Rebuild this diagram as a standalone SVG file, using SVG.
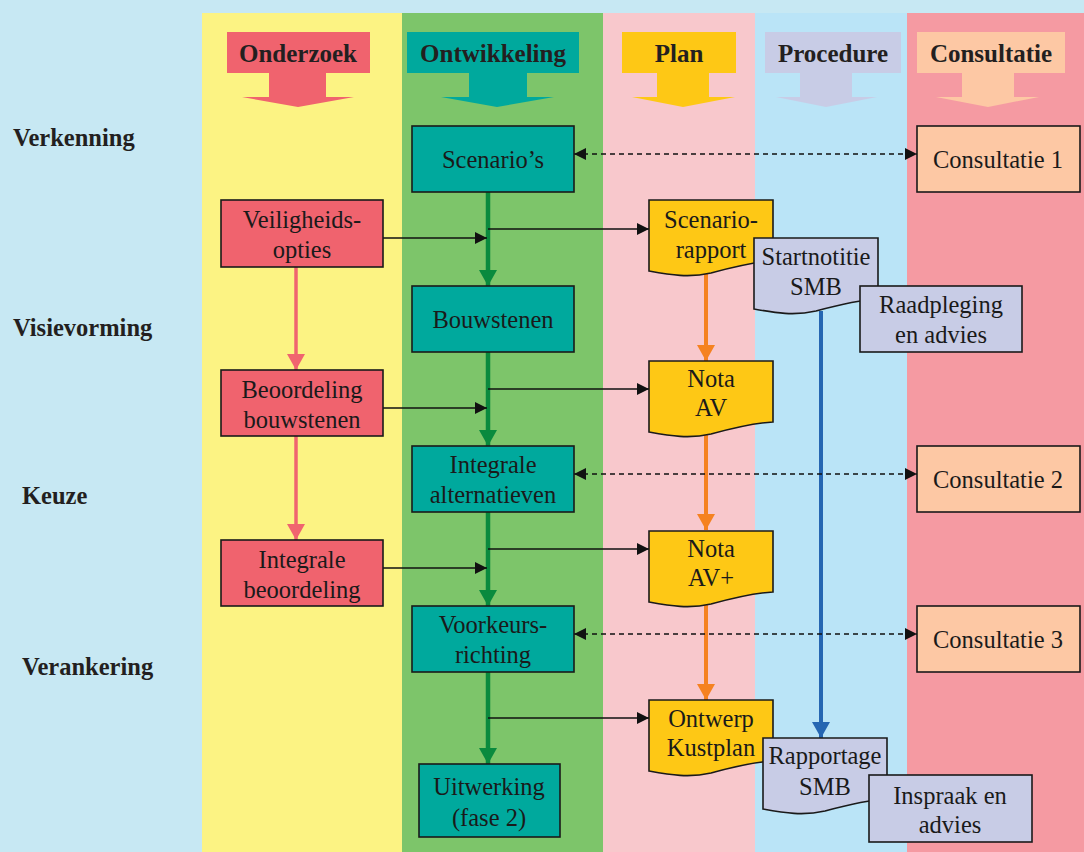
<svg xmlns="http://www.w3.org/2000/svg" width="1084" height="852" viewBox="0 0 1084 852">
<defs>
<style>
text{font-family:'Liberation Serif','Tinos','Times New Roman','DejaVu Serif',serif}
.lbl{font-size:24.5px;fill:#1a1a1a;text-anchor:middle}
.hd{font-size:25px;font-weight:bold;fill:#231f20;text-anchor:middle}
.row{font-size:24.5px;font-weight:bold;fill:#231f20}
.box{stroke:#1a1a1a;stroke-width:1.6}
.teal{fill:#00a99d}
.red{fill:#f0636e}
.yel{fill:#fec815}
.lav{fill:#c8cce6}
.peach{fill:#fdc8a4}
.blk{stroke:#111;stroke-width:1.6;fill:none}
.dash{stroke:#111;stroke-width:1.4;fill:none;stroke-dasharray:5,4}
.grn{stroke:#0a8a3e;stroke-width:4.5;fill:none}
.org{stroke:#f58220;stroke-width:4;fill:none}
.rdl{stroke:#f0646f;stroke-width:3.5;fill:none}
.blu{stroke:#2566b2;stroke-width:4;fill:none}
</style>
<marker id="ab" markerUnits="userSpaceOnUse" markerWidth="13" markerHeight="12" refX="12" refY="6" orient="auto-start-reverse" viewBox="0 0 13 12"><path d="M0,0 L12,6 L0,12 Z" fill="#111"/></marker>
<marker id="ag" markerUnits="userSpaceOnUse" markerWidth="18" markerHeight="18" refX="16" refY="9" orient="auto" viewBox="0 0 18 18"><path d="M0,0 L16,9 L0,18 Z" fill="#0a8a3e"/></marker>
<marker id="ao" markerUnits="userSpaceOnUse" markerWidth="18" markerHeight="18" refX="16" refY="9" orient="auto" viewBox="0 0 18 18"><path d="M0,0 L16,9 L0,18 Z" fill="#f58220"/></marker>
<marker id="ar" markerUnits="userSpaceOnUse" markerWidth="18" markerHeight="18" refX="16" refY="9" orient="auto" viewBox="0 0 18 18"><path d="M0,0 L16,9 L0,18 Z" fill="#f0646f"/></marker>
<marker id="au" markerUnits="userSpaceOnUse" markerWidth="18" markerHeight="18" refX="16" refY="9" orient="auto" viewBox="0 0 18 18"><path d="M0,0 L16,9 L0,18 Z" fill="#2566b2"/></marker>
<path id="doc" d="M0,0 H124 V61 C104,62 84,67 62,73 C40,78 22,75 0,71 Z"/>
</defs>

<!-- background and columns -->
<rect x="0" y="0" width="1084" height="852" fill="#c7e8f3"/>
<rect x="202" y="13" width="200" height="839" fill="#fcf383"/>
<rect x="402" y="13" width="201" height="839" fill="#7dc56a"/>
<rect x="603" y="13" width="152" height="839" fill="#f8c8cc"/>
<rect x="755" y="13" width="152" height="839" fill="#bae4f7"/>
<rect x="907" y="13" width="177" height="839" fill="#f59aa2"/>

<!-- column headers -->
<g id="hdr-onderzoek">
<polygon points="227,32 370,32 370,73 326,73 326,97 354,97 298,107 242,97 269,97 269,73 227,73" fill="#f0636e"/>
<text class="hd" x="298" y="62">Onderzoek</text>
</g>
<g id="hdr-ontwikkeling">
<polygon points="407,32 579,32 579,73 527,73 527,97 554,97 497,107 441,97 469,97 469,73 407,73" fill="#00a99d"/>
<text class="hd" x="493" y="62">Ontwikkeling</text>
</g>
<g id="hdr-plan">
<polygon points="622,32 736,32 736,73 709,73 709,97 735,97 683,107 632,97 657,97 657,73 622,73" fill="#fec815"/>
<text class="hd" x="679" y="62">Plan</text>
</g>
<g id="hdr-procedure">
<polygon points="765,32 901,32 901,73 852,73 852,97 877,97 826,107 776,97 800,97 800,73 765,73" fill="#c8cce6"/>
<text class="hd" x="833" y="62">Procedure</text>
</g>
<g id="hdr-consultatie">
<polygon points="917,32 1065,32 1065,73 1014,73 1014,97 1039,97 988,107 936,97 962,97 962,73 917,73" fill="#fdc8a4"/>
<text class="hd" x="991" y="62">Consultatie</text>
</g>

<!-- row labels -->
<g id="rows">
<text class="row" x="13" y="146">Verkenning</text>
<text class="row" x="13" y="336">Visievorming</text>
<text class="row" x="22" y="504">Keuze</text>
<text class="row" x="22" y="675">Verankering</text>
</g>

<!-- connectors -->
<g id="connectors">
<line class="grn" x1="488" y1="192" x2="488" y2="286" marker-end="url(#ag)"/>
<line class="grn" x1="488" y1="352" x2="488" y2="446" marker-end="url(#ag)"/>
<line class="grn" x1="488" y1="512" x2="488" y2="606" marker-end="url(#ag)"/>
<line class="grn" x1="488" y1="672" x2="488" y2="764" marker-end="url(#ag)"/>
<line class="blk" x1="383" y1="238" x2="487" y2="238" marker-end="url(#ab)"/>
<line class="blk" x1="488" y1="229" x2="649" y2="229" marker-end="url(#ab)"/>
<line class="blk" x1="383" y1="408" x2="487" y2="408" marker-end="url(#ab)"/>
<line class="blk" x1="488" y1="389" x2="649" y2="389" marker-end="url(#ab)"/>
<line class="blk" x1="383" y1="568" x2="487" y2="568" marker-end="url(#ab)"/>
<line class="blk" x1="488" y1="549" x2="649" y2="549" marker-end="url(#ab)"/>
<line class="blk" x1="488" y1="718" x2="649" y2="718" marker-end="url(#ab)"/>
<line class="org" x1="706" y1="273" x2="706" y2="361" marker-end="url(#ao)"/>
<line class="org" x1="706" y1="435" x2="706" y2="530" marker-end="url(#ao)"/>
<line class="org" x1="706" y1="604" x2="706" y2="700" marker-end="url(#ao)"/>
<line class="rdl" x1="296" y1="267" x2="296" y2="370" marker-end="url(#ar)"/>
<line class="rdl" x1="296" y1="436" x2="296" y2="540" marker-end="url(#ar)"/>
<line class="blu" x1="821" y1="311" x2="821" y2="738" marker-end="url(#au)"/>
<line class="dash" x1="574" y1="154" x2="917" y2="154" marker-start="url(#ab)" marker-end="url(#ab)"/>
<line class="dash" x1="574" y1="474" x2="917" y2="474" marker-start="url(#ab)" marker-end="url(#ab)"/>
<line class="dash" x1="574" y1="634" x2="917" y2="634" marker-start="url(#ab)" marker-end="url(#ab)"/>
</g>

<!-- Ontwikkeling nodes -->
<g id="n-scenarios"><rect class="box teal" x="412" y="126" width="162" height="66"/><text class="lbl" x="493" y="168">Scenario’s</text></g>
<g id="n-bouwstenen"><rect class="box teal" x="412" y="286" width="162" height="66"/><text class="lbl" x="493" y="328">Bouwstenen</text></g>
<g id="n-integrale-alt"><rect class="box teal" x="412" y="446" width="162" height="66"/><text class="lbl" x="493" y="473">Integrale</text><text class="lbl" x="493" y="503">alternatieven</text></g>
<g id="n-voorkeur"><rect class="box teal" x="412" y="606" width="162" height="66"/><text class="lbl" x="493" y="633">Voorkeurs-</text><text class="lbl" x="493" y="663">richting</text></g>
<g id="n-uitwerking"><rect class="box teal" x="419" y="764" width="141" height="73"/><text class="lbl" x="489" y="795">Uitwerking</text><text class="lbl" x="489" y="826">(fase 2)</text></g>

<!-- Onderzoek nodes -->
<g id="n-veiligheid"><rect class="box red" x="221" y="200" width="162" height="67"/><text class="lbl" x="302" y="228">Veiligheids-</text><text class="lbl" x="302" y="258">opties</text></g>
<g id="n-beoordeling"><rect class="box red" x="221" y="370" width="162" height="66"/><text class="lbl" x="302" y="398">Beoordeling</text><text class="lbl" x="302" y="428">bouwstenen</text></g>
<g id="n-int-beoordeling"><rect class="box red" x="221" y="540" width="162" height="66"/><text class="lbl" x="302" y="568">Integrale</text><text class="lbl" x="302" y="598">beoordeling</text></g>

<!-- Plan nodes -->
<g id="n-scenariorapport"><use href="#doc" x="649" y="200" class="box yel"/><text class="lbl" x="711" y="228">Scenario-</text><text class="lbl" x="711" y="258">rapport</text></g>
<g id="n-nota-av"><use href="#doc" x="649" y="361" class="box yel"/><text class="lbl" x="711" y="387">Nota</text><text class="lbl" x="711" y="416">AV</text></g>
<g id="n-nota-avplus"><use href="#doc" x="649" y="531" class="box yel"/><text class="lbl" x="711" y="557">Nota</text><text class="lbl" x="711" y="586">AV+</text></g>
<g id="n-ontwerp"><use href="#doc" x="649" y="700" class="box yel"/><text class="lbl" x="711" y="727">Ontwerp</text><text class="lbl" x="711" y="756">Kustplan</text></g>

<!-- Procedure nodes -->
<g id="n-startnotitie"><use href="#doc" x="754" y="238" class="box lav"/><text class="lbl" x="816" y="265">Startnotitie</text><text class="lbl" x="816" y="295">SMB</text></g>
<g id="n-raadpleging"><rect class="box lav" x="860" y="286" width="162" height="66"/><text class="lbl" x="941" y="313">Raadpleging</text><text class="lbl" x="941" y="343">en advies</text></g>
<g id="n-rapportage"><use href="#doc" x="763" y="738" class="box lav"/><text class="lbl" x="825" y="764">Rapportage</text><text class="lbl" x="825" y="795">SMB</text></g>
<g id="n-inspraak"><rect class="box lav" x="869" y="775" width="163" height="67"/><text class="lbl" x="950" y="804">Inspraak en</text><text class="lbl" x="950" y="833">advies</text></g>

<!-- Consultatie nodes -->
<g id="n-consultatie1"><rect class="box peach" x="917" y="126" width="163" height="66"/><text class="lbl" x="998" y="168">Consultatie 1</text></g>
<g id="n-consultatie2"><rect class="box peach" x="917" y="446" width="163" height="66"/><text class="lbl" x="998" y="488">Consultatie 2</text></g>
<g id="n-consultatie3"><rect class="box peach" x="917" y="606" width="163" height="66"/><text class="lbl" x="998" y="648">Consultatie 3</text></g>
</svg>
